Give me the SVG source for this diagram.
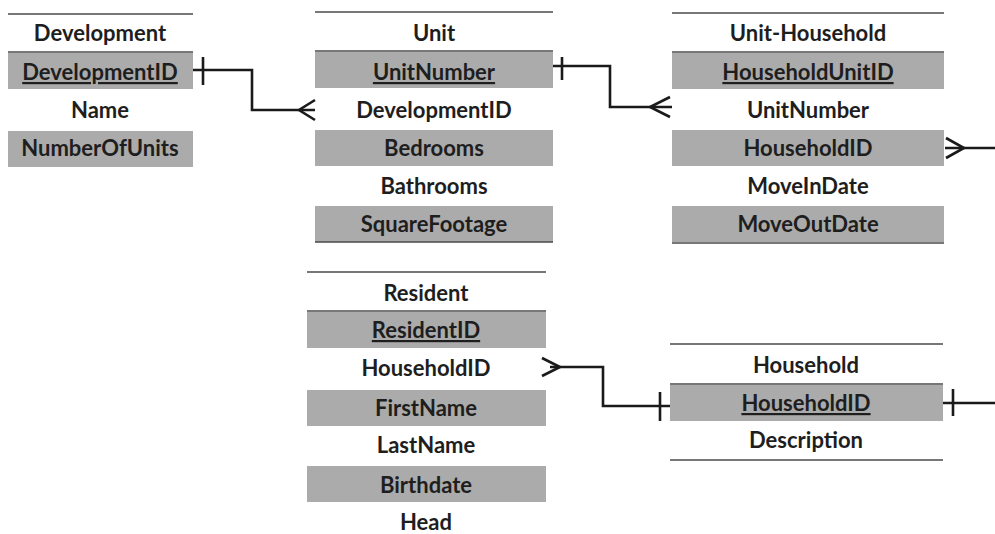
<svg xmlns="http://www.w3.org/2000/svg" width="995" height="534" viewBox="0 0 995 534">
<style>
.bg{fill:#ffffff}
.sh{fill:#ababab}
.rule{stroke:#4a4a4a;stroke-width:1.6}
.t{font-family:Lato,"Liberation Sans",sans-serif;font-size:22px;font-weight:bold;fill:#1e1e1e;text-anchor:middle}
.pk{text-decoration:underline}
.c{fill:none;stroke:#1a1a1a;stroke-width:2.6}
</style>
<rect class="bg" x="0" y="0" width="995" height="534"/>

<g id="development">
<line class="rule" x1="8" y1="14" x2="193" y2="14"/>
<text class="t" x="100" y="41">Development</text>
<line class="rule" x1="8" y1="52" x2="193" y2="52"/>
<rect class="sh" x="8" y="53" width="185" height="36"/>
<text class="t pk" x="100" y="80">DevelopmentID</text>
<text class="t" x="100" y="118">Name</text>
<rect class="sh" x="8" y="131" width="185" height="36"/>
<text class="t" x="100" y="156">NumberOfUnits</text>
</g>

<g id="unit">
<line class="rule" x1="315" y1="12" x2="553" y2="12"/>
<text class="t" x="434" y="41">Unit</text>
<line class="rule" x1="315" y1="51" x2="553" y2="51"/>
<rect class="sh" x="315" y="52" width="238" height="36"/>
<text class="t pk" x="434" y="80">UnitNumber</text>
<text class="t" x="434" y="118">DevelopmentID</text>
<rect class="sh" x="315" y="130" width="238" height="36"/>
<text class="t" x="434" y="156">Bedrooms</text>
<text class="t" x="434" y="194">Bathrooms</text>
<rect class="sh" x="315" y="206" width="238" height="36"/>
<text class="t" x="434" y="232">SquareFootage</text>
<line class="rule" x1="315" y1="242" x2="553" y2="242"/>
</g>

<g id="unit-household">
<line class="rule" x1="672" y1="13" x2="944" y2="13"/>
<text class="t" x="808" y="41">Unit-Household</text>
<line class="rule" x1="672" y1="52" x2="944" y2="52"/>
<rect class="sh" x="672" y="53" width="272" height="36"/>
<text class="t pk" x="808" y="80">HouseholdUnitID</text>
<text class="t" x="808" y="118">UnitNumber</text>
<rect class="sh" x="672" y="130" width="272" height="36"/>
<text class="t" x="808" y="156">HouseholdID</text>
<text class="t" x="808" y="194">MoveInDate</text>
<rect class="sh" x="672" y="206" width="272" height="36"/>
<text class="t" x="808" y="232">MoveOutDate</text>
<line class="rule" x1="672" y1="243" x2="944" y2="243"/>
</g>

<g id="resident">
<line class="rule" x1="307" y1="272" x2="546" y2="272"/>
<text class="t" x="426" y="301">Resident</text>
<line class="rule" x1="307" y1="311" x2="546" y2="311"/>
<rect class="sh" x="307" y="312" width="239" height="36"/>
<text class="t pk" x="426" y="338">ResidentID</text>
<text class="t" x="426" y="376">HouseholdID</text>
<rect class="sh" x="307" y="390" width="239" height="36"/>
<text class="t" x="426" y="416">FirstName</text>
<text class="t" x="426" y="453">LastName</text>
<rect class="sh" x="307" y="466" width="239" height="36"/>
<text class="t" x="426" y="493">Birthdate</text>
<text class="t" x="426" y="530">Head</text>
</g>

<g id="household">
<line class="rule" x1="670" y1="344" x2="943" y2="344"/>
<text class="t" x="806" y="373">Household</text>
<line class="rule" x1="670" y1="384" x2="943" y2="384"/>
<rect class="sh" x="670" y="385" width="273" height="36"/>
<text class="t pk" x="806" y="411">HouseholdID</text>
<text class="t" x="806" y="448">Description</text>
<line class="rule" x1="670" y1="460" x2="943" y2="460"/>
</g>

<g id="connectors">
<!-- Development -> Unit -->
<polyline class="c" points="193,70 252,70 252,110 315,110"/>
<line class="c" x1="203" y1="57" x2="203" y2="85"/>
<polyline class="c" points="315,100 299,110 315,120"/>
<!-- Unit -> Unit-Household -->
<polyline class="c" points="553,66 610,66 610,107 672,107"/>
<line class="c" x1="562" y1="57" x2="562" y2="80"/>
<polyline class="c" points="670,97 650,107 670,117"/>
<!-- Unit-Household -> off right -->
<line class="c" x1="945" y1="148" x2="995" y2="148"/>
<polyline class="c" points="946,138 964,148 946,158"/>
<!-- Household -> off right -->
<line class="c" x1="943" y1="403" x2="995" y2="403"/>
<line class="c" x1="953" y1="389" x2="953" y2="416"/>
<!-- Resident -> Household -->
<polyline class="c" points="550,367 603,367 603,406 670,406"/>
<polyline class="c" points="542,358 560,367 542,376"/>
<line class="c" x1="660" y1="392" x2="660" y2="421"/>
</g>
</svg>
